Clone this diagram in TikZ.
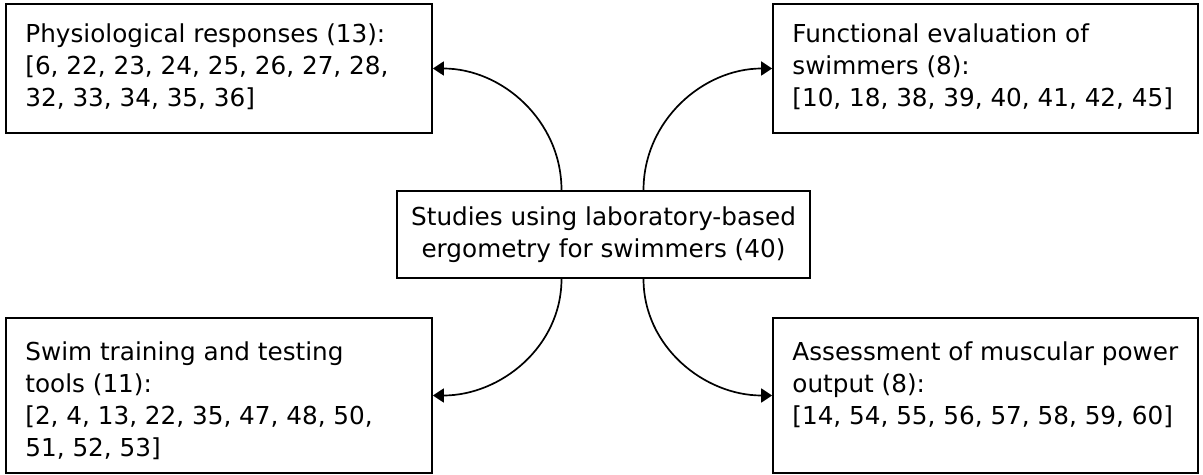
\documentclass[tikz,border=0pt]{standalone}
\usepackage{fontspec}
\setmainfont{DejaVu Sans}
\usetikzlibrary{arrows.meta}
\begin{document}
\begin{tikzpicture}[x=0.5pt,y=-0.5pt,
  box/.style={draw=black,line width=0.85pt,inner sep=0pt,fill=none},
  txt/.style={font=\fontsize{12.35}{16}\selectfont},
  lbl/.style={txt,inner sep=0pt,align=left,anchor=north west},
  conn/.style={line width=0.85pt,-{Triangle[length=5.5pt,width=7pt]}},
]
\useasboundingbox (0,0) rectangle (1203,475);
% boxes
\node[box,minimum width=213pt,minimum height=64.5pt] (tl) at (219,68.5) {};
\node[box,minimum width=212.5pt,minimum height=64.5pt] (tr) at (985.5,68.5) {};
\node[box,txt,minimum width=206.5pt,minimum height=43.5pt,align=center] (c) at (603.5,234.5) {Studies using laboratory-based\\ergometry for swimmers (40)};
\node[box,minimum width=213pt,minimum height=77.5pt] (bl) at (219,395.5) {};
\node[box,minimum width=212.5pt,minimum height=77.5pt] (br) at (985.5,395.5) {};
% labels
\node[lbl] (tlt) at (25,23) {Physiological responses (13):\\{}[6, 22, 23, 24, 25, 26, 27, 28,\\32, 33, 34, 35, 36]};
\node[lbl] (trt) at (792,23) {Functional evaluation of\\swimmers (8):\\{}[10, 18, 38, 39, 40, 41, 42, 45]};
\node[lbl] (blt) at (25,341) {Swim training and testing\\tools (11):\\{}[2, 4, 13, 22, 35, 47, 48, 50,\\51, 52, 53]};
\node[lbl] (brt) at (792,341) {Assessment of muscular power\\output (8):\\{}[14, 54, 55, 56, 57, 58, 59, 60]};
% connectors
\draw[conn] ([xshift=-21pt]c.north) to[out=90,in=0] (tl.east);
\draw[conn] ([xshift=20pt]c.north) to[out=90,in=180] (tr.west);
\draw[conn] ([xshift=-21pt]c.south) to[out=-90,in=0] (bl.east);
\draw[conn] ([xshift=20pt]c.south) to[out=-90,in=180] (br.west);
\end{tikzpicture}
\end{document}
